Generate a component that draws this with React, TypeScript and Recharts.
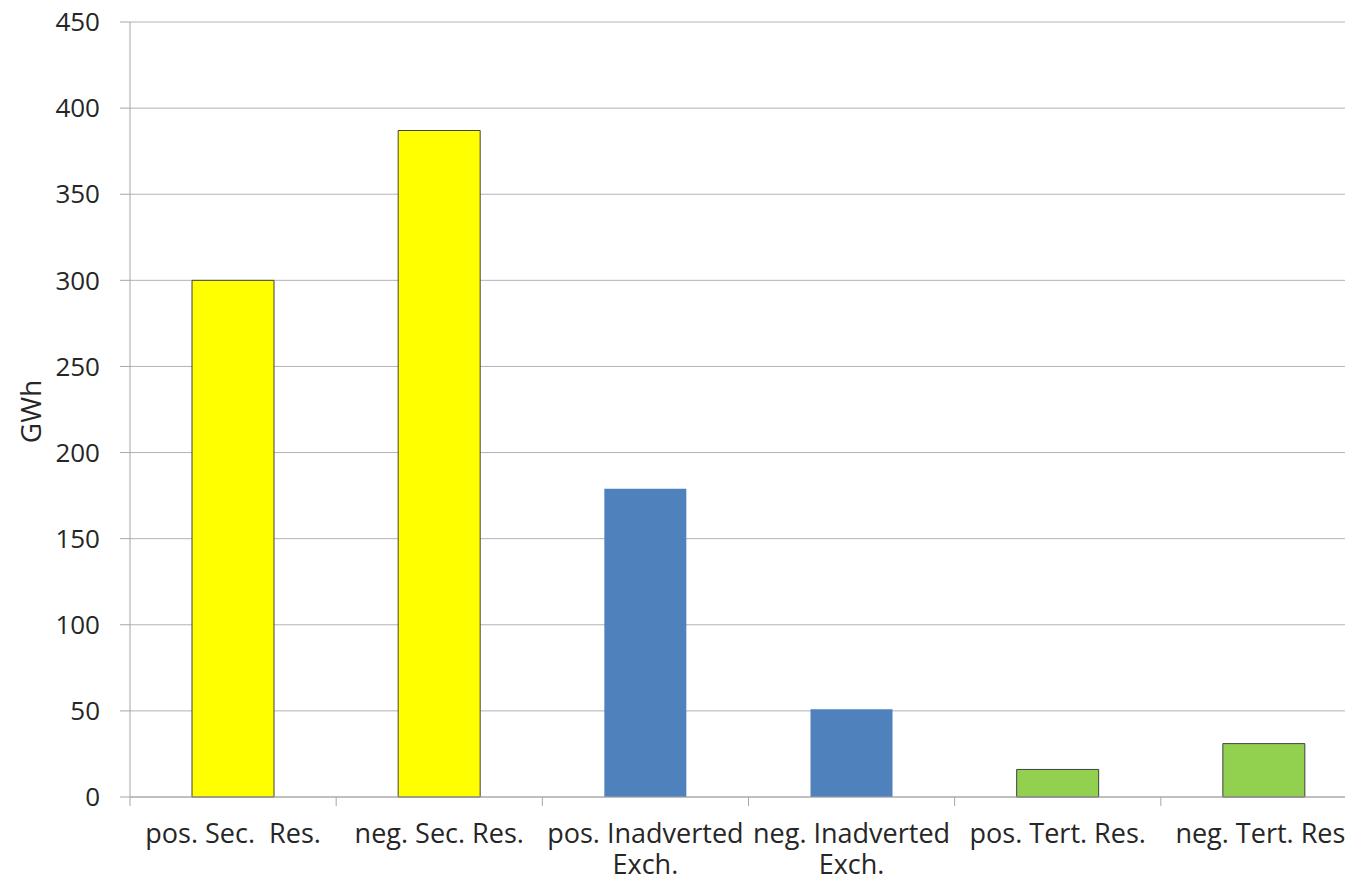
import React from "react";
import { BarChart, Bar, XAxis, YAxis, CartesianGrid, Cell } from "recharts";

const categories = [
  "pos. Sec.  Res.",
  "neg. Sec. Res.",
  "pos. Inadverted Exch.",
  "neg. Inadverted Exch.",
  "pos. Tert. Res.",
  "neg. Tert. Res.",
];
const energyGWh = [300, 387, 179, 51, 16, 31];
const yTicks = [0, 50, 100, 150, 200, 250, 300, 350, 400, 450];

const fills = ["#ffff00", "#ffff00", "#4f81bd", "#4f81bd", "#92d050", "#92d050"];
const strokes = ["#404040", "#404040", "none", "none", "#404040", "#404040"];

const data = categories.map((name, i) => ({ name, value: energyGWh[i] }));

const FONT = "'Open Sans', sans-serif";
const TEXT = "#262626";
const AXIS = "#a6a6a6";
const CHART_W = 1372;
const MARGIN = { top: 14, right: 13, bottom: 10, left: 0 };
const Y_W = 122;
const BAND = (CHART_W - MARGIN.left - MARGIN.right - Y_W) / categories.length;
const MAX_CHARS = 16;

// greedy word wrap so long category names break like the original
const wrap = (label: string) => {
  const lines: string[] = [];
  let cur = "";
  label.split(/ (?! )/).forEach((w) => {
    const next = cur ? cur + " " + w : w;
    if (next.length > MAX_CHARS && cur) {
      lines.push(cur);
      cur = w;
    } else {
      cur = next;
    }
  });
  if (cur) lines.push(cur);
  return lines;
};

const CategoryTick = (props: any) => {
  const { x, y, payload } = props;
  const left = x - BAND / 2;
  const lines = wrap(String(payload.value));
  return (
    <g>
      <line x1={left} y1={y} x2={left} y2={y + 9} stroke={AXIS} strokeWidth={1} />
      <text
        x={x}
        y={y + 46}
        textAnchor="middle"
        fontSize={27}
        fontFamily={FONT}
        fill={TEXT}
        style={{ whiteSpace: "pre" }}
      >
        {lines.map((l, i) => (
          <tspan key={i} x={x} dy={i === 0 ? 0 : 31}>
            {l}
          </tspan>
        ))}
      </text>
    </g>
  );
};

const UnitLabel = (props: any) => {
  const { viewBox } = props;
  const cx = viewBox.x + 22;
  const cy = viewBox.y + viewBox.height / 2 + 2;
  return (
    <text
      x={cx}
      y={cy}
      transform={`rotate(-90, ${cx}, ${cy})`}
      textAnchor="middle"
      dominantBaseline="central"
      fontSize={28}
      fontFamily={FONT}
      fill={TEXT}
    >
      GWh
    </text>
  );
};

export default function App() {
  return (
    <div style={{ width: 1345, height: 869, overflow: "hidden" }}>
      <BarChart width={CHART_W} height={869} data={data} margin={MARGIN} barSize={82}>
        <CartesianGrid vertical={false} stroke="#b3b3b3" />
        <XAxis
          dataKey="name"
          interval={0}
          height={70}
          stroke={AXIS}
          tickLine={false}
          tickSize={0}
          tickMargin={0}
          tick={<CategoryTick />}
        />
        <YAxis
          width={Y_W}
          domain={[0, 450]}
          ticks={yTicks}
          interval={0}
          stroke={AXIS}
          tickSize={10}
          tickMargin={20}
          tick={{ fontSize: 26, fontFamily: FONT, fill: TEXT }}
          label={<UnitLabel />}
        />
        <Bar dataKey="value" isAnimationActive={false}>
          {data.map((d, i) => (
            <Cell key={d.name} fill={fills[i]} stroke={strokes[i]} strokeWidth={1} />
          ))}
        </Bar>
      </BarChart>
    </div>
  );
}
